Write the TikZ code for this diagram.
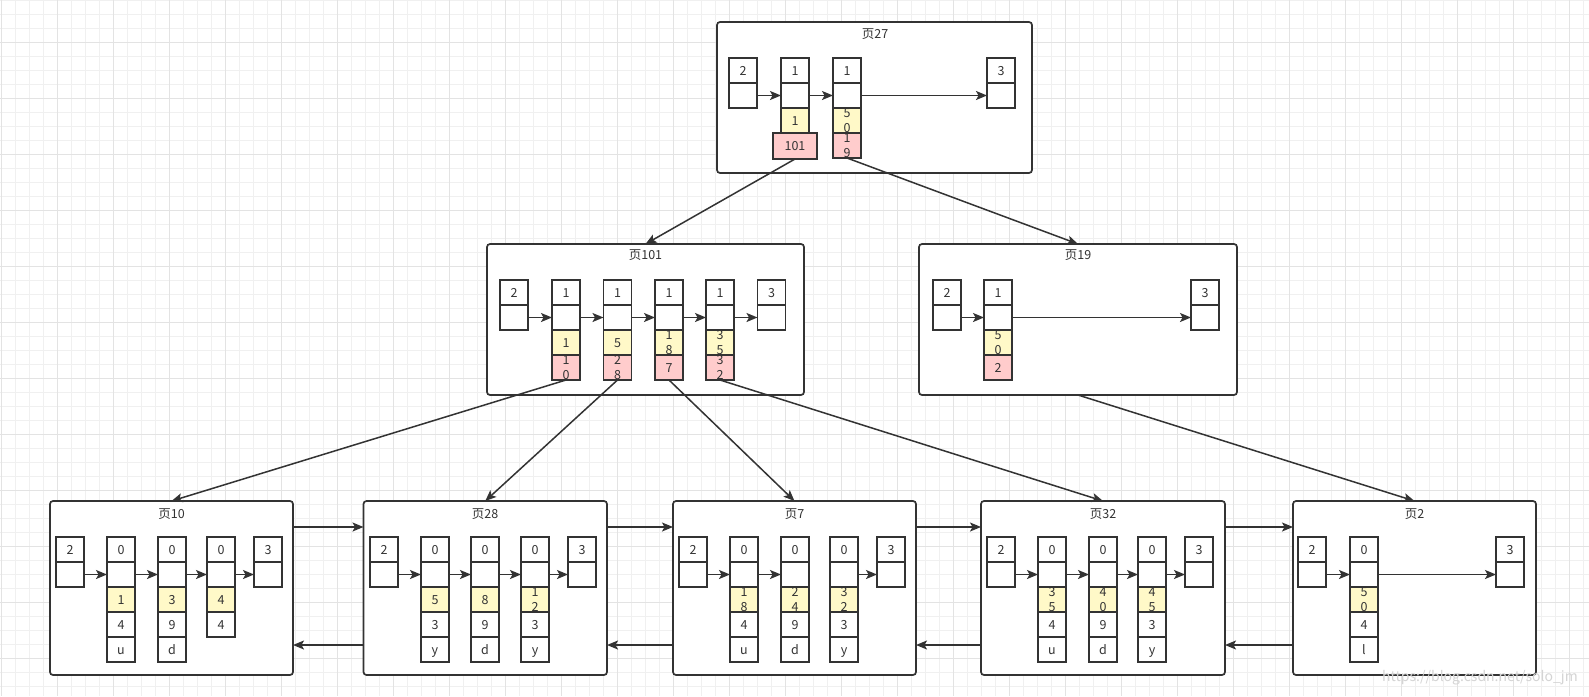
\documentclass[tikz,border=0pt]{standalone}
\usepackage{fontspec}
\setmainfont{Noto Sans CJK SC}
\usetikzlibrary{arrows.meta,calc}
\definecolor{linec}{HTML}{333333}
\definecolor{textc}{HTML}{333333}
\definecolor{yellowc}{HTML}{FFF9C8}
\definecolor{pinkc}{HTML}{FFCCCC}
\definecolor{gminor}{HTML}{F0F0F0}
\definecolor{gmajor}{HTML}{E3E3E3}
\definecolor{wmc}{HTML}{D4D4D4}
\tikzset{
  cellw/.style={draw=linec, line width=1.4pt, fill=white, minimum width=28pt, minimum height=25pt, inner sep=0pt, outer sep=0pt, anchor=north west},
  celly/.style={cellw, fill=yellowc},
  cellp/.style={cellw, fill=pinkc},
  ctxt/.style={anchor=base, inner sep=0pt, text=textc, font=\fontsize{12.5}{15}\selectfont},
  ctxttwo/.style={anchor=center, inner sep=0pt, text=textc, align=center, font=\fontsize{12.5}{15}\selectfont},
  pagebox/.style={draw=linec, line width=1.7pt, rounded corners=3pt, fill=white, anchor=north west, inner sep=0pt, outer sep=0pt},
  ptitle/.style={text=textc, font=\fontsize{12.5}{14}\selectfont, inner sep=0pt},
  arw/.style={draw=linec, line width=1.5pt, -{Stealth[length=11pt,width=9pt,inset=2.5pt]}},
  gridminorline/.style={draw=gminor, line width=0.8pt},
  gridmajorline/.style={draw=gmajor, line width=0.8pt}
}
\newcommand\mycell[5]{\node[#1] (#2) at (#3,#4) {}; \node[ctxt] (#2x) at ([yshift=-4.5pt]#2.center) {#5};}
\newcommand\mycelltwo[5]{\node[#1] (#2) at (#3,#4) {}; \node[ctxttwo] (#2x) at (#2.center) {#5};}
% column head: name, x, y0, label
\newcommand\mycol[4]{\mycell{cellw}{#1t}{#2}{#3}{#4}\mycell{cellw}{#1m}{#2}{#3+25}{}}
\begin{document}
\begin{tikzpicture}[x=1pt,y=-1pt]
\useasboundingbox (0,0) rectangle (1589,696);
\fill[white] (0,0) rectangle (1589,696);
% grid
\foreach \i in {0,...,113} { \draw[gridminorline] ({1.3+14*\i},0) -- ({1.3+14*\i},696); }
\foreach \j in {0,...,49} { \draw[gridminorline] (0,{0.3+14*\j}) -- (1589,{0.3+14*\j}); }
\foreach \i in {0,...,28} { \draw[gridmajorline] ({1.3+56*\i},0) -- ({1.3+56*\i},696); }
\foreach \j in {0,...,11} { \draw[gridmajorline] (0,{42.3+56*\j}) -- (1589,{42.3+56*\j}); }

% ---------------- page boxes ----------------
\node[pagebox, minimum width=315pt, minimum height=151pt] (pA) at (717,22) {};
\node[pagebox, minimum width=317pt, minimum height=151pt] (pB) at (487,244) {};
\node[pagebox, minimum width=318pt, minimum height=151pt] (pC) at (919,244) {};
\node[pagebox, minimum width=243pt, minimum height=174pt] (pD) at (50,501) {};
\node[pagebox, minimum width=243.5pt, minimum height=174pt] (pE) at (363.5,501) {};
\node[pagebox, minimum width=243pt, minimum height=174pt] (pF) at (673,501) {};
\node[pagebox, minimum width=244pt, minimum height=174pt] (pG) at (981,501) {};
\node[pagebox, minimum width=243pt, minimum height=174pt] (pH) at (1293,501) {};

\node[ptitle] (pAt) at (875,34) {页27};
\node[ptitle] (pBt) at (645.5,255) {页101};
\node[ptitle] (pCt) at (1078,255) {页19};
\node[ptitle] (pDt) at (171.5,514) {页10};
\node[ptitle] (pEt) at (485,514) {页28};
\node[ptitle] (pFt) at (794.5,514) {页7};
\node[ptitle] (pGt) at (1103,514) {页32};
\node[ptitle] (pHt) at (1414.5,514) {页2};

% ---------------- page 27 ----------------
\mycol{A0}{729}{58}{2}
\mycol{A1}{781}{58}{1}
\mycol{A2}{833}{58}{1}
\mycol{A3}{987}{58}{3}
\mycell{celly}{A1y}{781}{108}{1}
\mycell{cellp, minimum width=44pt, minimum height=26pt}{A1p}{773}{133}{101}
\mycelltwo{celly}{A2y}{833}{108}{5\\0}
\mycelltwo{cellp}{A2p}{833}{133}{1\\9}
\draw[arw] (A0m.east) -- (A1m.west);
\draw[arw] (A1m.east) -- (A2m.west);
\draw[arw] (A2m.east) -- (A3m.west);

% ---------------- page 101 ----------------
\mycol{B0}{500}{280}{2}
\mycol{B1}{552}{280}{1}
\mycol{B2}{603.5}{280}{1}
\mycol{B3}{655}{280}{1}
\mycol{B4}{706}{280}{1}
\mycol{B5}{757.5}{280}{3}
\mycell{celly}{B1y}{552}{330}{1}
\mycell{celly}{B2y}{603.5}{330}{5}
\mycelltwo{celly}{B3y}{655}{330}{1\\8}
\mycelltwo{celly}{B4y}{706}{330}{3\\5}
\mycelltwo{cellp}{B1p}{552}{355}{1\\0}
\mycelltwo{cellp}{B2p}{603.5}{355}{2\\8}
\mycell{cellp}{B3p}{655}{355}{7}
\mycelltwo{cellp}{B4p}{706}{355}{3\\2}
\draw[arw] (B0m.east) -- (B1m.west);
\draw[arw] (B1m.east) -- (B2m.west);
\draw[arw] (B2m.east) -- (B3m.west);
\draw[arw] (B3m.east) -- (B4m.west);
\draw[arw] (B4m.east) -- (B5m.west);

% ---------------- page 19 ----------------
\mycol{C0}{933}{280}{2}
\mycol{C1}{984}{280}{1}
\mycol{C2}{1191}{280}{3}
\mycelltwo{celly}{C1y}{984}{330}{5\\0}
\mycell{cellp}{C1p}{984}{355}{2}
\draw[arw] (C0m.east) -- (C1m.west);
\draw[arw] (C1m.east) -- (C2m.west);

% ---------------- page 10 ----------------
\mycol{D0}{56}{537}{2}
\mycol{D1}{107}{537}{0}
\mycol{D2}{158}{537}{0}
\mycol{D3}{207}{537}{0}
\mycol{D4}{254}{537}{3}
\mycell{celly}{D1y}{107}{587}{1}
\mycell{cellw}{D1r}{107}{612}{4}
\mycell{cellw}{D1s}{107}{637}{u}
\mycell{celly}{D2y}{158}{587}{3}
\mycell{cellw}{D2r}{158}{612}{9}
\mycell{cellw}{D2s}{158}{637}{d}
\mycell{celly}{D3y}{207}{587}{4}
\mycell{cellw}{D3r}{207}{612}{4}
\draw[arw] (D0m.east) -- (D1m.west);
\draw[arw] (D1m.east) -- (D2m.west);
\draw[arw] (D2m.east) -- (D3m.west);
\draw[arw] (D3m.east) -- (D4m.west);

% ---------------- page 28 ----------------
\mycol{E0}{370}{537}{2}
\mycol{E1}{421}{537}{0}
\mycol{E2}{471}{537}{0}
\mycol{E3}{521}{537}{0}
\mycol{E4}{568}{537}{3}
\mycell{celly}{E1y}{421}{587}{5}
\mycell{cellw}{E1r}{421}{612}{3}
\mycell{cellw}{E1s}{421}{637}{y}
\mycell{celly}{E2y}{471}{587}{8}
\mycell{cellw}{E2r}{471}{612}{9}
\mycell{cellw}{E2s}{471}{637}{d}
\mycelltwo{celly}{E3y}{521}{587}{1\\2}
\mycell{cellw}{E3r}{521}{612}{3}
\mycell{cellw}{E3s}{521}{637}{y}
\draw[arw] (E0m.east) -- (E1m.west);
\draw[arw] (E1m.east) -- (E2m.west);
\draw[arw] (E2m.east) -- (E3m.west);
\draw[arw] (E3m.east) -- (E4m.west);

% ---------------- page 7 ----------------
\mycol{F0}{679}{537}{2}
\mycol{F1}{730}{537}{0}
\mycol{F2}{781}{537}{0}
\mycol{F3}{830}{537}{0}
\mycol{F4}{877}{537}{3}
\mycelltwo{celly}{F1y}{730}{587}{1\\8}
\mycell{cellw}{F1r}{730}{612}{4}
\mycell{cellw}{F1s}{730}{637}{u}
\mycelltwo{celly}{F2y}{781}{587}{2\\4}
\mycell{cellw}{F2r}{781}{612}{9}
\mycell{cellw}{F2s}{781}{637}{d}
\mycelltwo{celly}{F3y}{830}{587}{3\\2}
\mycell{cellw}{F3r}{830}{612}{3}
\mycell{cellw}{F3s}{830}{637}{y}
\draw[arw] (F0m.east) -- (F1m.west);
\draw[arw] (F1m.east) -- (F2m.west);
\draw[arw] (F3m.east) -- (F4m.west);

% ---------------- page 32 ----------------
\mycol{G0}{987}{537}{2}
\mycol{G1}{1038}{537}{0}
\mycol{G2}{1089}{537}{0}
\mycol{G3}{1138}{537}{0}
\mycol{G4}{1185}{537}{3}
\mycelltwo{celly}{G1y}{1038}{587}{3\\5}
\mycell{cellw}{G1r}{1038}{612}{4}
\mycell{cellw}{G1s}{1038}{637}{u}
\mycelltwo{celly}{G2y}{1089}{587}{4\\0}
\mycell{cellw}{G2r}{1089}{612}{9}
\mycell{cellw}{G2s}{1089}{637}{d}
\mycelltwo{celly}{G3y}{1138}{587}{4\\5}
\mycell{cellw}{G3r}{1138}{612}{3}
\mycell{cellw}{G3s}{1138}{637}{y}
\draw[arw] (G0m.east) -- (G1m.west);
\draw[arw] (G1m.east) -- (G2m.west);
\draw[arw] (G2m.east) -- (G3m.west);
\draw[arw] (G3m.east) -- (G4m.west);

% ---------------- page 2 ----------------
\mycol{H0}{1298}{537}{2}
\mycol{H1}{1350}{537}{0}
\mycol{H2}{1496}{537}{3}
\mycelltwo{celly}{H1y}{1350}{587}{5\\0}
\mycell{cellw}{H1r}{1350}{612}{4}
\mycell{cellw}{H1s}{1350}{637}{l}
\draw[arw] (H0m.east) -- (H1m.west);
\draw[arw] (H1m.east) -- (H2m.west);

% ---------------- tree connectors ----------------
\draw[arw] (A1p.south) -- (pB.north);
\draw[arw] (A2p.south) -- (pC.north);
\draw[arw] (B1p.south) -- (pD.north);
\draw[arw] (B2p.south) -- (pE.north);
\draw[arw] (B3p.south) -- (pF.north);
\draw[arw] (B4p.south) -- (pG.north);
\draw[arw] (pC.south) -- (pH.north);

% ---------------- sibling links ----------------
\draw[arw] ([yshift=-26pt]pD.north east) -- ([yshift=-26pt]pE.north west);
\draw[arw] ([yshift=-26pt]pE.north east) -- ([yshift=-26pt]pF.north west);
\draw[arw] ([yshift=-26pt]pF.north east) -- ([yshift=-26pt]pG.north west);
\draw[arw] ([yshift=-26pt]pG.north east) -- ([yshift=-26pt]pH.north west);
\draw[arw] ([yshift=30pt]pE.south west) -- ([yshift=30pt]pD.south east);
\draw[arw] ([yshift=30pt]pF.south west) -- ([yshift=30pt]pE.south east);
\draw[arw] ([yshift=30pt]pG.south west) -- ([yshift=30pt]pF.south east);
\draw[arw] ([yshift=30pt]pH.south west) -- ([yshift=30pt]pG.south east);

% watermark
\node[text=wmc, font=\fontsize{14}{16}\selectfont, inner sep=0pt] (wm) at (1480,678) {https://blog.csdn.net/solo\_jm};
\end{tikzpicture}
\end{document}
